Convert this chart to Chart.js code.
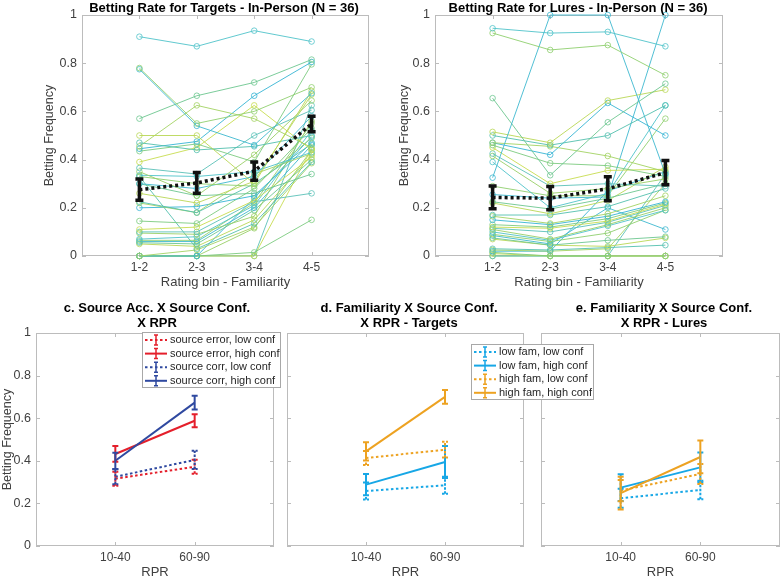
<!DOCTYPE html>
<html>
<head>
<meta charset="utf-8">
<script src="https://cdn.jsdelivr.net/npm/chart.js@4.4.0/dist/chart.umd.min.js"></script>
<style>
  html, body { margin: 0; padding: 0; background: #fff; }
  #wrap { position: relative; width: 781px; height: 577px; }
  #wrap canvas { position: absolute; left: 0; top: 0; }
</style>
</head>
<body>
<div id="wrap">
  <canvas id="targets" width="781" height="577"></canvas>
  <canvas id="lures" width="781" height="577"></canvas>
  <canvas id="acc" width="781" height="577"></canvas>
  <canvas id="famLures" width="781" height="577"></canvas>
  <canvas id="famTargets" width="781" height="577"></canvas>
</div>
<script>
// ---- data ----
var bins = ['1-2', '2-3', '3-4', '4-5'];
var rprBins = ['10-40', '60-90'];
var yTicks = [0, 0.2, 0.4, 0.6, 0.8, 1];

// one row per participant (N = 36), values per rating bin
var targetRows = [
  [0.91, 0.87, 0.935, 0.89], [0.78, 0.55, 0.6, 0.7], [0.775, 0.54, 0.46, 0.675],
  [0.57, 0.665, 0.72, 0.815], [0.5, 0.5, 0.3, 0.685], [0.47, 0.44, 0.455, 0.5],
  [0.455, 0.625, 0.57, 0.45], [0.445, 0.475, 0.665, 0.805], [0.435, 0.465, 0.39, 0.795],
  [0.39, 0.45, 0.625, 0.44], [0.365, 0.34, 0.5, 0.605], [0.35, 0.25, 0.42, 0.645],
  [0.335, 0.33, 0.35, 0.43], [0.33, 0.3, 0.29, 0.49], [0.3, 0.28, 0.33, 0.58],
  [0.3, 0.25, 0.26, 0.34], [0.26, 0.22, 0.31, 0.67], [0.225, 0.18, 0.3, 0.465],
  [0.22, 0.18, 0.34, 0.425], [0.2, 0.205, 0.25, 0.47], [0.145, 0.135, 0.28, 0.53],
  [0.11, 0.12, 0.23, 0.41], [0.1, 0.1, 0.225, 0.26], [0.095, 0.09, 0.165, 0.56],
  [0.07, 0.08, 0.21, 0.52], [0.065, 0.065, 0.22, 0.55], [0.06, 0.06, 0.2, 0.46],
  [0.055, 0.05, 0.19, 0.4], [0.05, 0.04, 0.15, 0.42], [0.33, 0.03, 0.135, 0.39],
  [0, 0.025, 0.12, 0.385], [0, 0, 0.24, 0.495], [0, 0, 0.015, 0.15],
  [0, 0, 0, 0.445], [0, 0, 0, 0.625], [0, 0, 0.115, 0.44]
];
var lureRows = [
  [0.945, 0.925, 0.93, 0.87], [0.925, 0.855, 0.875, 0.75], [0.325, 1, 1, 0.34],
  [0.655, 0.335, 0.555, 0.715], [0.515, 0.47, 0.645, 0.69], [0.5, 0.46, 0.5, 0.625],
  [0.47, 0.455, 0.415, 0.35], [0.47, 0.42, 0.635, 0.5], [0.46, 0.385, 0.375, 0.33],
  [0.45, 0.3, 0.355, 0.36], [0.425, 0.29, 0.3, 0.29], [0.415, 0.26, 0.28, 0.32],
  [0.39, 0.2, 0.26, 0.625], [0.29, 0.25, 0.25, 0.57], [0.255, 0.24, 0.245, 1],
  [0.225, 0.195, 0.24, 0.3], [0.22, 0.175, 0.23, 0.37], [0.17, 0.17, 0.205, 0.28],
  [0.165, 0.135, 0.175, 0.25], [0.15, 0.13, 0.165, 0.225], [0.13, 0.12, 0.155, 0.22],
  [0.12, 0.115, 0.145, 0.215], [0.115, 0.1, 0.14, 0.21], [0.11, 0.07, 0.13, 0.2],
  [0.1, 0.065, 0.125, 0.19], [0.09, 0.06, 0.095, 0.19], [0.085, 0.05, 0.2, 0.11],
  [0.075, 0.045, 0.065, 0.08], [0.07, 0.045, 0.04, 0.075], [0.03, 0.025, 0.035, 0.045],
  [0.025, 0.02, 0.03, 0.3], [0.02, 0.02, 0.27, 0.35], [0.015, 0, 0, 0],
  [0.01, 0, 0, 0], [0, 0, 0, 0.34], [0, 0, 0, 0]
];
var targetMean = [0.275, 0.303, 0.352, 0.548];
var targetSem = [0.044, 0.043, 0.038, 0.032];
var lureMean = [0.243, 0.24, 0.279, 0.346];
var lureSem = [0.047, 0.048, 0.05, 0.05];

var accLabels = ['source error, low conf', 'source error, high conf', 'source corr, low conf', 'source corr, high conf'];
var accMeans = [[0.316, 0.372], [0.432, 0.588], [0.325, 0.404], [0.4, 0.673]];
var accErr = [[0.033, 0.033], [0.037, 0.03], [0.035, 0.043], [0.038, 0.032]];

var famLabels = ['low fam, low conf', 'low fam, high conf', 'high fam, low conf', 'high fam, high conf'];
var targetFamMeans = [[0.258, 0.285], [0.288, 0.394], [0.413, 0.452], [0.444, 0.7]];
var targetFamErr = [[0.04, 0.04], [0.05, 0.075], [0.033, 0.037], [0.043, 0.032]];
var lureFamMeans = [[0.224, 0.263], [0.274, 0.369], [0.26, 0.338], [0.248, 0.418]];
var lureFamErr = [[0.045, 0.043], [0.063, 0.07], [0.05, 0.047], [0.077, 0.077]];

// ---- styles ----
var lineColors = ['#4fc3c9', '#8fcf6e', '#3db8cf', '#6cc68f', '#b9d755', '#52bfae',
                  '#a3d262', '#35b4d4', '#7ccb7f', '#c7dc4f', '#5ac1b8', '#98cf66'];
var red = '#e41f2b', navy = '#2f49a0', cyan = '#17a7e6', orange = '#eda221';

Chart.defaults.font.family = '"Liberation Sans", Arial, Helvetica, sans-serif';
Chart.defaults.color = '#404040';
Chart.defaults.animation = false;

// matlab style box with inward ticks
var boxTicks = {
  id: 'boxTicks',
  beforeDatasetsDraw: function (chart) {
    var a = chart.chartArea, c = chart.ctx, sx = chart.scales.x, sy = chart.scales.y;
    c.save();
    c.strokeStyle = '#bcbcbc';
    c.lineWidth = 1;
    c.strokeRect(a.left + 0.5, a.top + 0.5, a.right - a.left - 1, a.bottom - a.top - 1);
    c.beginPath();
    sy.ticks.forEach(function (t) {
      var py = Math.round(sy.getPixelForValue(t.value)) + 0.5;
      c.moveTo(a.left, py); c.lineTo(a.left + 4, py);
      c.moveTo(a.right, py); c.lineTo(a.right - 4, py);
    });
    sx.ticks.forEach(function (t) {
      var px = Math.round(sx.getPixelForValue(t.value)) + 0.5;
      c.moveTo(px, a.top); c.lineTo(px, a.top + 4);
      c.moveTo(px, a.bottom); c.lineTo(px, a.bottom - 4);
    });
    c.stroke();
    c.restore();
  }
};

var errorBars = {
  id: 'errorBars',
  afterDatasetsDraw: function (chart) {
    var c = chart.ctx, sx = chart.scales.x, sy = chart.scales.y;
    chart.data.datasets.forEach(function (ds) {
      if (!ds.errors) return;
      c.save();
      c.strokeStyle = ds.borderColor;
      c.lineWidth = ds.errWidth || ds.borderWidth;
      c.setLineDash(ds.errDash || []);
      ds.data.forEach(function (p, j) {
        var px = sx.getPixelForValue(p.x);
        var lo = sy.getPixelForValue(p.y - ds.errors[j]);
        var hi = sy.getPixelForValue(p.y + ds.errors[j]);
        var cw = ds.capWidth / 2;
        c.beginPath();
        c.moveTo(px, lo); c.lineTo(px, hi);
        c.moveTo(px - cw, lo); c.lineTo(px + cw, lo);
        c.moveTo(px - cw, hi); c.lineTo(px + cw, hi);
        c.stroke();
      });
      c.restore();
    });
  }
};

function titleText(lines, cx, y0) {
  return {
    id: 'panelTitle',
    afterDraw: function (chart) {
      var c = chart.ctx;
      c.save();
      c.font = 'bold 13px "Liberation Sans", Arial, sans-serif';
      c.fillStyle = '#000';
      c.textAlign = 'center';
      c.textBaseline = 'middle';
      lines.forEach(function (t, i) { c.fillText(t, cx, y0 + i * 15); });
      c.restore();
    }
  };
}

function boxLegend(x, y, w, h) {
  return {
    id: 'boxLegend',
    afterDraw: function (chart) {
      var c = chart.ctx;
      c.save();
      c.fillStyle = '#fff';
      c.fillRect(x, y, w, h);
      c.strokeStyle = '#a8a8a8';
      c.lineWidth = 1;
      c.strokeRect(x + 0.5, y + 0.5, w - 1, h - 1);
      chart.data.datasets.forEach(function (ds, i) {
        var ly = y + 8 + i * 13.6, x0 = x + 3, x1 = x + 25, xm = (x0 + x1) / 2;
        c.strokeStyle = ds.borderColor;
        c.lineWidth = ds.borderWidth;
        c.setLineDash(ds.borderDash || []);
        c.beginPath(); c.moveTo(x0, ly); c.lineTo(x1, ly); c.stroke();
        c.setLineDash([]);
        c.lineWidth = 1.5;
        c.beginPath();
        c.moveTo(xm, ly - 5); c.lineTo(xm, ly + 5);
        c.moveTo(xm - 2, ly - 5); c.lineTo(xm + 2, ly - 5);
        c.moveTo(xm - 2, ly + 5); c.lineTo(xm + 2, ly + 5);
        c.stroke();
        c.fillStyle = '#262626';
        c.font = '11px "Liberation Sans", Arial, sans-serif';
        c.textBaseline = 'middle';
        c.fillText(ds.label, x + 28, ly);
      });
      c.restore();
    }
  };
}

function scales(o) {
  return {
    x: {
      type: 'linear', min: 0, max: o.xMax,
      afterBuildTicks: function (s) { s.ticks = o.xLabels.map(function (l, i) { return { value: i + 1 }; }); },
      afterFit: function (s) { s.height = o.xH; },
      grid: { display: false, drawTicks: false },
      border: { display: false },
      ticks: {
        autoSkip: false, maxRotation: 0, padding: o.xPad, font: { size: 12 }, color: '#404040',
        callback: function (v) { return o.xLabels[v - 1]; }
      },
      title: { display: true, text: o.xTitle, font: { size: 13 }, color: '#404040', padding: { top: 0, bottom: o.xTitlePad } }
    },
    y: {
      type: 'linear', min: 0, max: 1,
      afterBuildTicks: function (s) { s.ticks = yTicks.map(function (v) { return { value: v }; }); },
      afterFit: function (s) { s.width = o.yW; },
      grid: { display: false, drawTicks: false },
      border: { display: false },
      ticks: {
        display: o.yLabels, padding: 5, font: { size: 12.5 }, color: '#404040',
        callback: function (v) { return String(v); }
      },
      title: { display: o.yLabels, text: 'Betting Frequency', font: { size: 12.5 }, color: '#404040', padding: { top: o.yTitlePad, bottom: 0 } }
    }
  };
}

function subjectSets(rows) {
  return rows.map(function (row, i) {
    var col = lineColors[i % lineColors.length];
    return {
      data: row.map(function (v, j) { return { x: j + 1, y: v }; }),
      showLine: true, borderColor: col, borderWidth: 0.9,
      pointRadius: 2.8, pointBorderWidth: 0.8, pointBorderColor: col,
      pointBackgroundColor: 'rgba(0,0,0,0)', order: 1, clip: false
    };
  });
}

function meanSet(means, sems) {
  return {
    data: means.map(function (v, j) { return { x: j + 1, y: v }; }),
    showLine: true, borderColor: '#111', borderWidth: 3.5, borderDash: [3, 3],
    pointRadius: 0, order: 0, clip: false,
    errors: sems, errWidth: 3.5, capWidth: 8
  };
}

function conditionSets(labels, means, errs, colors) {
  return labels.map(function (lab, i) {
    return {
      label: lab,
      data: means[i].map(function (v, j) { return { x: j + 1, y: v }; }),
      showLine: true, borderColor: colors[i], borderWidth: 2,
      borderDash: i % 2 === 0 ? [2.5, 2.5] : [],
      errDash: i % 2 === 0 ? [2.5, 1.5] : [],
      pointRadius: 0, order: 4 - i, clip: false,
      errors: errs[i], errWidth: 2, capWidth: 6
    };
  });
}

// ---- top left: targets ----
var ctx = document.getElementById('targets').getContext('2d');
new Chart(ctx, {
  type: 'scatter',
  data: { datasets: [meanSet(targetMean, targetSem)].concat(subjectSets(targetRows)) },
  options: {
    responsive: false, events: [],
    layout: { padding: { left: 40, top: 15, right: 412, bottom: 285 } },
    plugins: { legend: { display: false }, tooltip: { enabled: false } },
    scales: scales({ xMax: 5, xLabels: bins, xTitle: 'Rating bin - Familiarity', xH: 36, xPad: 4, xTitlePad: 1.5, yW: 42, yLabels: true, yTitlePad: 2.5 })
  },
  plugins: [boxTicks, errorBars, titleText(['Betting Rate for Targets - In-Person (N = 36)'], 224, 8)]
});

// ---- top right: lures ----
var ctx = document.getElementById('lures').getContext('2d');
new Chart(ctx, {
  type: 'scatter',
  data: { datasets: [meanSet(lureMean, lureSem)].concat(subjectSets(lureRows)) },
  options: {
    responsive: false, events: [],
    layout: { padding: { left: 393, top: 15, right: 58, bottom: 285 } },
    plugins: { legend: { display: false }, tooltip: { enabled: false } },
    scales: scales({ xMax: 5, xLabels: bins, xTitle: 'Rating bin - Familiarity', xH: 36, xPad: 4, xTitlePad: 1.5, yW: 42, yLabels: true, yTitlePad: 4.5 })
  },
  plugins: [boxTicks, errorBars, titleText(['Betting Rate for Lures - In-Person (N = 36)'], 578, 8)]
});

// ---- c: source accuracy ----
var ctx = document.getElementById('acc').getContext('2d');
new Chart(ctx, {
  type: 'scatter',
  data: { datasets: conditionSets(accLabels, accMeans, accErr, [red, red, navy, navy]) },
  options: {
    responsive: false, events: [],
    layout: { padding: { left: 0, top: 333, right: 507, bottom: 0 } },
    plugins: { legend: { display: false }, tooltip: { enabled: false } },
    scales: scales({ xMax: 3, xLabels: rprBins, xTitle: 'RPR', xH: 31, xPad: 4, xTitlePad: -3.5, yW: 36, yLabels: true, yTitlePad: 0 })
  },
  plugins: [boxTicks, errorBars, titleText(['c. Source Acc. X Source Conf.', 'X RPR'], 157, 308), boxLegend(142, 332, 139, 56)]
});

// ---- e: familiarity, lures ----
var ctx = document.getElementById('famLures').getContext('2d');
new Chart(ctx, {
  type: 'scatter',
  data: { datasets: conditionSets(famLabels, lureFamMeans, lureFamErr, [cyan, cyan, orange, orange]) },
  options: {
    responsive: false, events: [],
    layout: { padding: { left: 511, top: 333, right: 1, bottom: 0 } },
    plugins: { legend: { display: false }, tooltip: { enabled: false } },
    scales: scales({ xMax: 3, xLabels: rprBins, xTitle: 'RPR', xH: 31, xPad: 4, xTitlePad: -3.5, yW: 30, yLabels: false, yTitlePad: 0 })
  },
  plugins: [boxTicks, errorBars, titleText(['e. Familiarity X Source Conf.', 'X RPR - Lures'], 664, 308)]
});

// ---- d: familiarity, targets (legend overlaps panel e) ----
var ctx = document.getElementById('famTargets').getContext('2d');
new Chart(ctx, {
  type: 'scatter',
  data: { datasets: conditionSets(famLabels, targetFamMeans, targetFamErr, [cyan, cyan, orange, orange]) },
  options: {
    responsive: false, events: [],
    layout: { padding: { left: 257, top: 333, right: 257, bottom: 0 } },
    plugins: { legend: { display: false }, tooltip: { enabled: false } },
    scales: scales({ xMax: 3, xLabels: rprBins, xTitle: 'RPR', xH: 31, xPad: 4, xTitlePad: -3.5, yW: 30, yLabels: false, yTitlePad: 0 })
  },
  plugins: [boxTicks, errorBars, titleText(['d. Familiarity X Source Conf.', 'X RPR - Targets'], 409, 308), boxLegend(471, 344, 123, 56)]
});
</script>
</body>
</html>
